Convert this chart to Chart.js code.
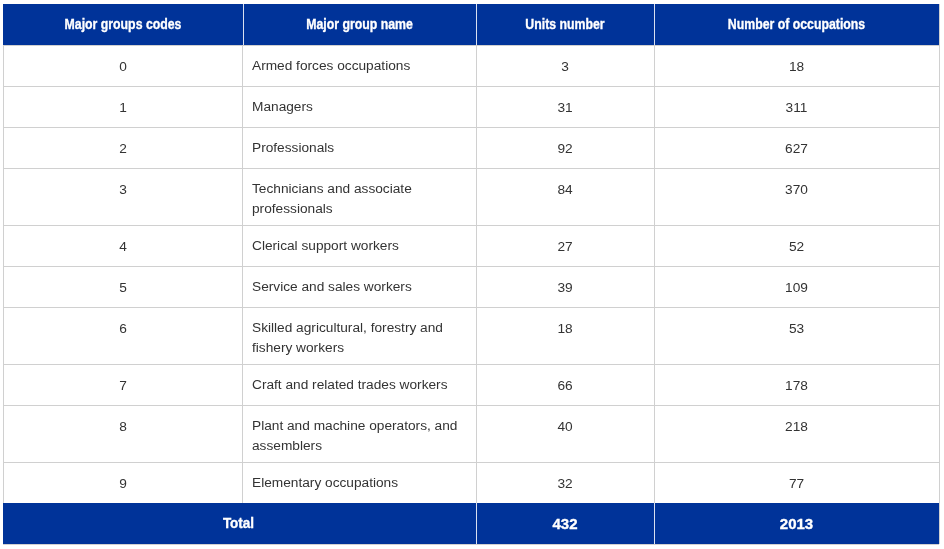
<!DOCTYPE html>
<html>
<head>
<meta charset="utf-8">
<script src="https://cdn.jsdelivr.net/npm/chart.js@4.4.1/dist/chart.umd.min.js"></script>
<style>
  html, body { margin: 0; padding: 0; background: #ffffff; }
  #wrap { width: 944px; height: 549px; }
</style>
</head>
<body>
<div id="wrap"><canvas id="c" width="944" height="549"></canvas></div>
<script>
// ---- data ----
const headers = ['Major groups codes', 'Major group name', 'Units number', 'Number of occupations'];
const codes = ['0', '1', '2', '3', '4', '5', '6', '7', '8', '9'];
const groupNames = [
  ['Armed forces occupations'],
  ['Managers'],
  ['Professionals'],
  ['Technicians and associate', 'professionals'],
  ['Clerical support workers'],
  ['Service and sales workers'],
  ['Skilled agricultural, forestry and', 'fishery workers'],
  ['Craft and related trades workers'],
  ['Plant and machine operators, and', 'assemblers'],
  ['Elementary occupations']
];
const unitsNumber = [3, 31, 92, 84, 27, 39, 18, 66, 40, 32];
const occupationsNumber = [18, 311, 627, 370, 52, 109, 53, 178, 218, 77];
const totalLabel = 'Total';
const totalUnits = 432;
const totalOccupations = 2013;

// ---- layout (not data) ----
const colWidths = [240, 233, 178, 285];
const singleRowH = 41, extraLineH = 16, headerH = 41, totalH = 41;
const firstLineOffset = 20, lineSpacing = 20;
const BLUE = '#003399';
const GRID = '#d0d0d0';
const TEXT = '#333333';
const bodyFont = '13.7px "Liberation Sans", Arial, sans-serif';
const headFont = 'bold 15px "Liberation Sans", Arial, sans-serif';
const headSquash = 0.82;

const colEdges = [0];
colWidths.forEach(w => colEdges.push(colEdges[colEdges.length - 1] + w));
const colCenter = i => (colEdges[i] + colEdges[i + 1]) / 2;

const rowEdges = [0, headerH];
groupNames.forEach(n => rowEdges.push(rowEdges[rowEdges.length - 1] + singleRowH + (n.length - 1) * extraLineH));
rowEdges.push(rowEdges[rowEdges.length - 1] + totalH);
const yMax = rowEdges[rowEdges.length - 1];
const xMax = colEdges[colEdges.length - 1];

const bodyTop = i => rowEdges[i + 1];
const unitsPts = unitsNumber.map((v, i) => ({ x: colCenter(2), y: bodyTop(i) + firstLineOffset, v }));
const occPts = occupationsNumber.map((v, i) => ({ x: colCenter(3), y: bodyTop(i) + firstLineOffset, v }));
const codePts = codes.map((v, i) => ({ x: colCenter(0), y: bodyTop(i) + firstLineOffset, v }));

function headText(ctx, txt, cx, cy, squash) {
  ctx.save();
  ctx.translate(cx, cy);
  ctx.scale(squash, 1);
  ctx.fillText(txt, 0, 0);
  ctx.strokeStyle = '#ffffff';
  ctx.lineWidth = 0.35;
  ctx.strokeText(txt, 0, 0);
  ctx.restore();
}

const tablePlugin = {
  id: 'tablePlugin',
  beforeDatasetsDraw(chart) {
    const { ctx, scales: { x, y } } = chart;
    ctx.save();
    const px = v => x.getPixelForValue(v);
    const py = v => y.getPixelForValue(v);
    // header & total backgrounds
    ctx.fillStyle = BLUE;
    ctx.fillRect(px(0), py(0), px(xMax) - px(0), py(headerH) - py(0));
    const tTop = rowEdges[rowEdges.length - 2];
    ctx.fillRect(px(0), py(tTop), px(xMax) - px(0), py(yMax) - py(tTop));
    // light separators in header / total
    ctx.strokeStyle = 'rgba(255,255,255,0.85)';
    ctx.lineWidth = 1;
    for (let i = 1; i < colEdges.length - 1; i++) {
      const xx = Math.round(px(colEdges[i])) + 0.5;
      ctx.beginPath(); ctx.moveTo(xx, py(0)); ctx.lineTo(xx, py(headerH)); ctx.stroke();
      if (i >= 2) {
        ctx.beginPath(); ctx.moveTo(xx, py(tTop)); ctx.lineTo(xx, py(yMax)); ctx.stroke();
      }
    }
    // header texts
    ctx.fillStyle = '#ffffff';
    ctx.font = headFont;
    ctx.textAlign = 'center';
    ctx.textBaseline = 'middle';
    headers.forEach((h, i) => headText(ctx, h, px(colCenter(i)), py(headerH / 2), headSquash));
    // total row
    const tMid = (tTop + yMax) / 2;
    headText(ctx, totalLabel, px((colEdges[0] + colEdges[2]) / 2) - 1, py(tMid), 0.9);
    headText(ctx, String(totalUnits), px(colCenter(2)), py(tMid) + 1, 1);
    headText(ctx, String(totalOccupations), px(colCenter(3)), py(tMid) + 1, 1);
    // group names (left aligned)
    ctx.fillStyle = TEXT;
    ctx.font = bodyFont;
    ctx.textAlign = 'left';
    groupNames.forEach((lines, i) => {
      lines.forEach((ln, k) => {
        ctx.fillText(ln, px(colEdges[1]) + 9, py(bodyTop(i) + firstLineOffset + k * lineSpacing) + 1);
      });
    });
    ctx.restore();
  },
  afterDatasetsDraw(chart) {
    const { ctx } = chart;
    ctx.save();
    ctx.fillStyle = TEXT;
    ctx.font = bodyFont;
    ctx.textAlign = 'center';
    ctx.textBaseline = 'middle';
    chart.data.datasets.forEach((ds, di) => {
      const meta = chart.getDatasetMeta(di);
      meta.data.forEach((el, j) => {
        ctx.fillText(String(ds.data[j].v), el.x, el.y + 2);
      });
    });
    ctx.restore();
  }
};

new Chart(document.getElementById('c'), {
  type: 'scatter',
  data: {
    datasets: [
      { label: 'codes', data: codePts, pointRadius: 0, pointHoverRadius: 0 },
      { label: 'Units number', data: unitsPts, pointRadius: 0, pointHoverRadius: 0 },
      { label: 'Number of occupations', data: occPts, pointRadius: 0, pointHoverRadius: 0 }
    ]
  },
  options: {
    responsive: false,
    animation: false,
    devicePixelRatio: 1,
    layout: { padding: { left: 3, right: 5, top: 4, bottom: 5 } },
    plugins: { legend: { display: false }, tooltip: { enabled: false } },
    events: [],
    scales: {
      x: {
        type: 'linear', min: 0, max: xMax,
        afterBuildTicks: s => { s.ticks = colEdges.map(v => ({ value: v })); },
        afterFit: s => { s.height = 0; },
        ticks: { display: false },
        border: { display: false },
        grid: { color: GRID, lineWidth: 1, drawTicks: false }
      },
      y: {
        type: 'linear', min: 0, max: yMax, reverse: true,
        afterBuildTicks: s => { s.ticks = rowEdges.map(v => ({ value: v })); },
        afterFit: s => { s.width = 0; },
        ticks: { display: false },
        border: { display: false },
        grid: { color: GRID, lineWidth: 1, drawTicks: false }
      }
    }
  },
  plugins: [tablePlugin]
});
</script>
</body>
</html>
